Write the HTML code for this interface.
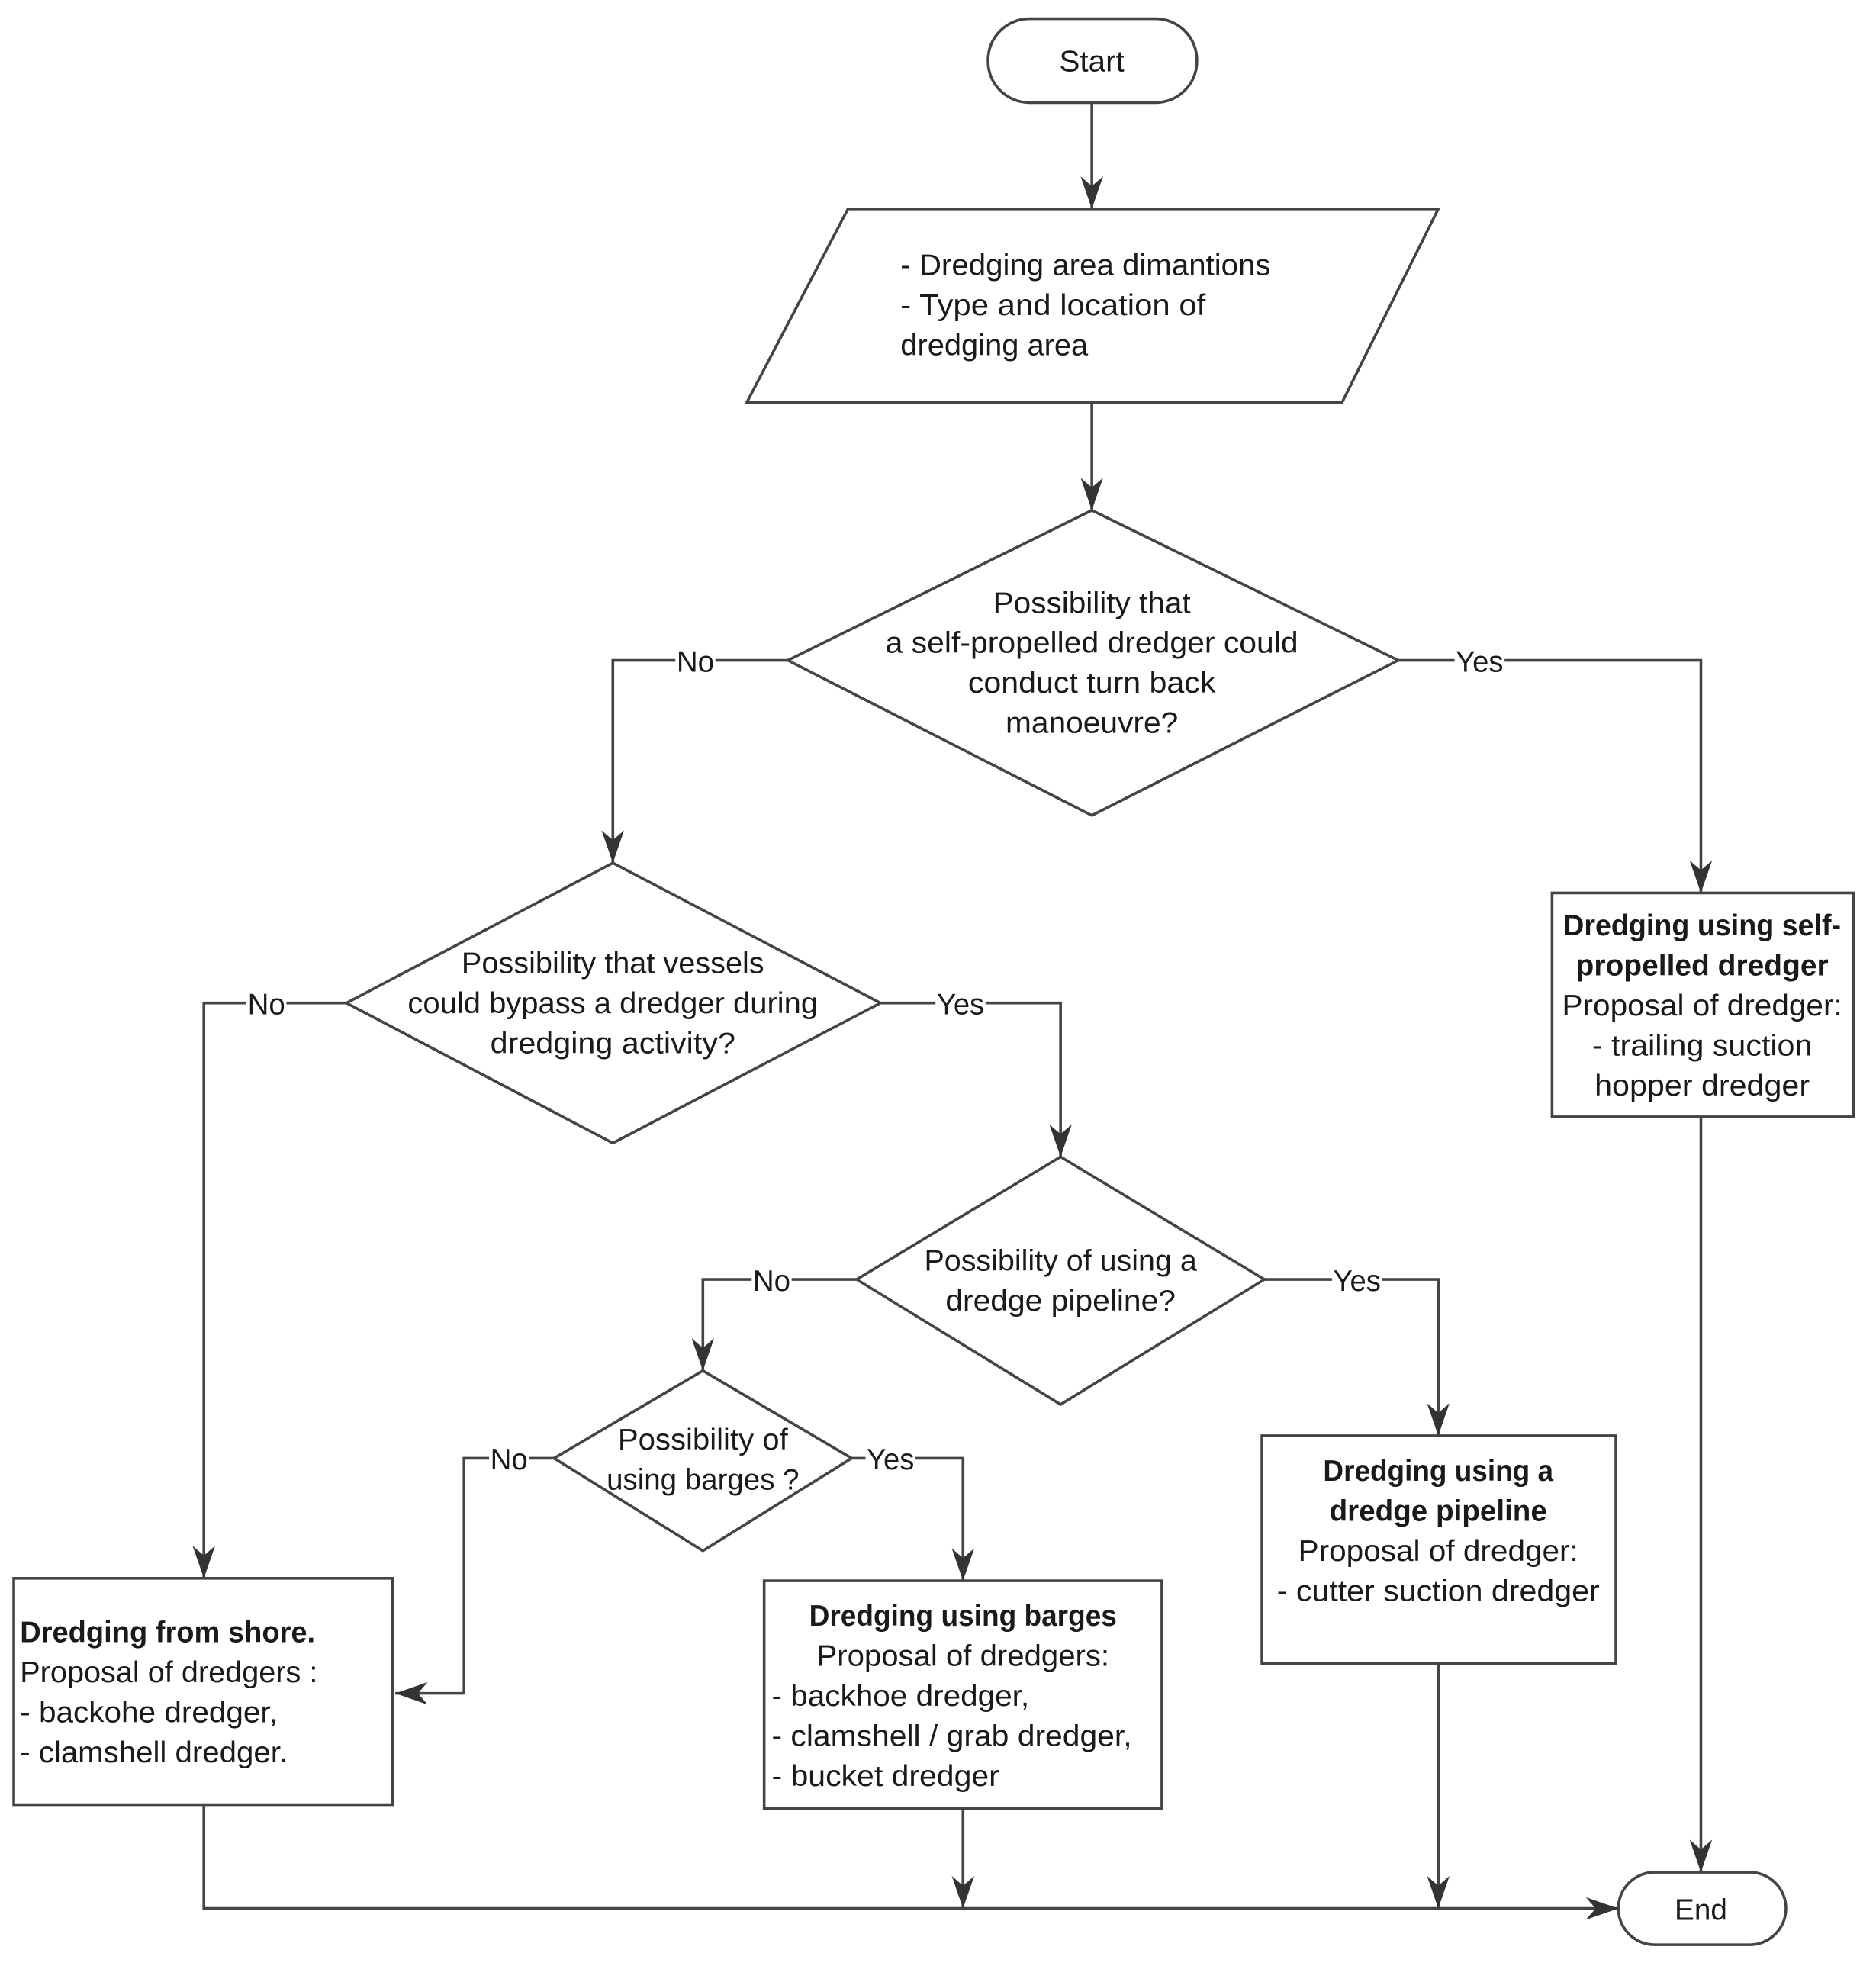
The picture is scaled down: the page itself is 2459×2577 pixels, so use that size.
<!DOCTYPE html>
<html><head><meta charset="utf-8"><style>
html,body{margin:0;padding:0;background:#fff;}
svg{display:block;}
text{font-family:"Liberation Sans",sans-serif;font-size:24px;fill:#1a1a1a;}
.b{font-weight:bold;}
</style></head><body>
<svg width="2459" height="2577" viewBox="0 0 1500 1572" xmlns="http://www.w3.org/2000/svg">
<defs>
<marker id="m" viewBox="0 0 10 10" refX="10" refY="5" markerWidth="26" markerHeight="18" markerUnits="userSpaceOnUse" orient="auto" preserveAspectRatio="none"><path d="M0,0 L10,5 L0,10 L3,5 z" fill="#333"/></marker></defs>
<g fill="none" stroke="#444" stroke-width="2.2">
<rect x="790" y="15" width="167" height="67" rx="33"/>
<polygon points="678,167 1150,167 1073,322 597,322"/>
<polygon points="873,408 1118,528 873,652 630,528"/>
<rect x="1241" y="714" width="241" height="179"/>
<polygon points="490,690 704,802 490,914 277,802"/>
<polygon points="848,925 1011,1023 848,1123 685,1023"/>
<polygon points="562,1096 681,1166 562,1240 443,1166"/>
<rect x="11" y="1262" width="303" height="181"/>
<rect x="611" y="1264" width="318" height="182"/>
<rect x="1009" y="1148" width="283" height="182"/>
<rect x="1294" y="1497" width="134" height="58" rx="29"/>
</g>
<g fill="none" stroke="#444" stroke-width="2.2" marker-end="url(#m)">
<path d="M873,82 V167"/>
<path d="M873,322 V408"/>
<path d="M630,528 H490 V690"/>
<path d="M1118,528 H1360 V714"/>
<path d="M277,802 H163 V1262"/>
<path d="M704,802 H848 V925"/>
<path d="M685,1023 H562 V1096"/>
<path d="M1011,1023 H1150 V1148"/>
<path d="M443,1166 H371 V1354 H316"/>
<path d="M681,1166 H770 V1264"/>
<path d="M163,1443 V1526 H1294"/>
<path d="M770,1446 V1526"/>
<path d="M1150,1330 V1526"/>
<path d="M1360,893 V1497"/>
</g>
<g text-anchor="middle" lengthAdjust="spacingAndGlyphs">
<rect x="540" y="516" width="32" height="24" fill="#fff"/><text x="556" y="537" textLength="30" lengthAdjust="spacingAndGlyphs">No</text>
<rect x="1163" y="516" width="40" height="24" fill="#fff"/><text x="1183" y="537" textLength="38" lengthAdjust="spacingAndGlyphs">Yes</text>
<rect x="197" y="790" width="32" height="24" fill="#fff"/><text x="213" y="811" textLength="30" lengthAdjust="spacingAndGlyphs">No</text>
<rect x="748" y="790" width="40" height="24" fill="#fff"/><text x="768" y="811" textLength="38" lengthAdjust="spacingAndGlyphs">Yes</text>
<rect x="601" y="1011" width="32" height="24" fill="#fff"/><text x="617" y="1032" textLength="30" lengthAdjust="spacingAndGlyphs">No</text>
<rect x="1065" y="1011" width="40" height="24" fill="#fff"/><text x="1085" y="1032" textLength="38" lengthAdjust="spacingAndGlyphs">Yes</text>
<rect x="391" y="1154" width="32" height="24" fill="#fff"/><text x="407" y="1175" textLength="30" lengthAdjust="spacingAndGlyphs">No</text>
<rect x="692" y="1154" width="40" height="24" fill="#fff"/><text x="712" y="1175" textLength="38" lengthAdjust="spacingAndGlyphs">Yes</text>
<text x="873" y="57" textLength="52" lengthAdjust="spacingAndGlyphs">Start</text>
<text x="1360" y="1535" textLength="42" lengthAdjust="spacingAndGlyphs">End</text>
<text x="873" y="490" textLength="158" lengthAdjust="spacingAndGlyphs">Possibility that</text>
<text x="873" y="522" textLength="330" lengthAdjust="spacingAndGlyphs">a self-propelled dredger could</text>
<text x="873" y="554" textLength="198" lengthAdjust="spacingAndGlyphs">conduct turn back</text>
<text x="873" y="586" textLength="138" lengthAdjust="spacingAndGlyphs">manoeuvre?</text>
<text x="490" y="778" textLength="242" lengthAdjust="spacingAndGlyphs">Possibility that vessels</text>
<text x="490" y="810" textLength="328" lengthAdjust="spacingAndGlyphs">could bypass a dredger during</text>
<text x="490" y="842" textLength="196" lengthAdjust="spacingAndGlyphs">dredging activity?</text>
<text x="848" y="1016" textLength="218" lengthAdjust="spacingAndGlyphs">Possibility of using a</text>
<text x="848" y="1048" textLength="184" lengthAdjust="spacingAndGlyphs">dredge pipeline?</text>
<text x="562" y="1159" textLength="136" lengthAdjust="spacingAndGlyphs">Possibility of</text>
<text x="562" y="1191" textLength="154" lengthAdjust="spacingAndGlyphs">using barges ?</text>
<text x="1361" y="748" class="b" textLength="222" lengthAdjust="spacingAndGlyphs">Dredging using self-</text>
<text x="1361" y="780" class="b" textLength="202" lengthAdjust="spacingAndGlyphs">propelled dredger</text>
<text x="1361" y="812" textLength="224" lengthAdjust="spacingAndGlyphs">Proposal of dredger:</text>
<text x="1361" y="844" textLength="176" lengthAdjust="spacingAndGlyphs">- trailing suction</text>
<text x="1361" y="876" textLength="172" lengthAdjust="spacingAndGlyphs">hopper dredger</text>
<text x="1150" y="1184" class="b" textLength="184" lengthAdjust="spacingAndGlyphs">Dredging using a</text>
<text x="1150" y="1216" class="b" textLength="174" lengthAdjust="spacingAndGlyphs">dredge pipeline</text>
<text x="1150" y="1248" textLength="224" lengthAdjust="spacingAndGlyphs">Proposal of dredger:</text>
<text x="1150" y="1280" textLength="258" lengthAdjust="spacingAndGlyphs">- cutter suction dredger</text>
<text x="770" y="1300" class="b" textLength="246" lengthAdjust="spacingAndGlyphs">Dredging using barges</text>
<text x="770" y="1332" textLength="234" lengthAdjust="spacingAndGlyphs">Proposal of dredgers:</text>
</g>
<g>
<text x="720" y="220" textLength="296" lengthAdjust="spacingAndGlyphs">- Dredging area dimantions</text>
<text x="720" y="252" textLength="244" lengthAdjust="spacingAndGlyphs">-  Type and location of</text>
<text x="720" y="284" textLength="150" lengthAdjust="spacingAndGlyphs">dredging area</text>
<text x="16" y="1313" class="b" textLength="236" lengthAdjust="spacingAndGlyphs">Dredging from shore.</text>
<text x="16" y="1345" textLength="238" lengthAdjust="spacingAndGlyphs">Proposal of dredgers :</text>
<text x="16" y="1377" textLength="206" lengthAdjust="spacingAndGlyphs">- backohe dredger,</text>
<text x="16" y="1409" textLength="214" lengthAdjust="spacingAndGlyphs">- clamshell dredger.</text>
<text x="617" y="1364" textLength="206" lengthAdjust="spacingAndGlyphs">- backhoe dredger,</text>
<text x="617" y="1396" textLength="288" lengthAdjust="spacingAndGlyphs">- clamshell / grab dredger,</text>
<text x="617" y="1428" textLength="182" lengthAdjust="spacingAndGlyphs">- bucket dredger</text>
</g>
</svg>
</body></html>
